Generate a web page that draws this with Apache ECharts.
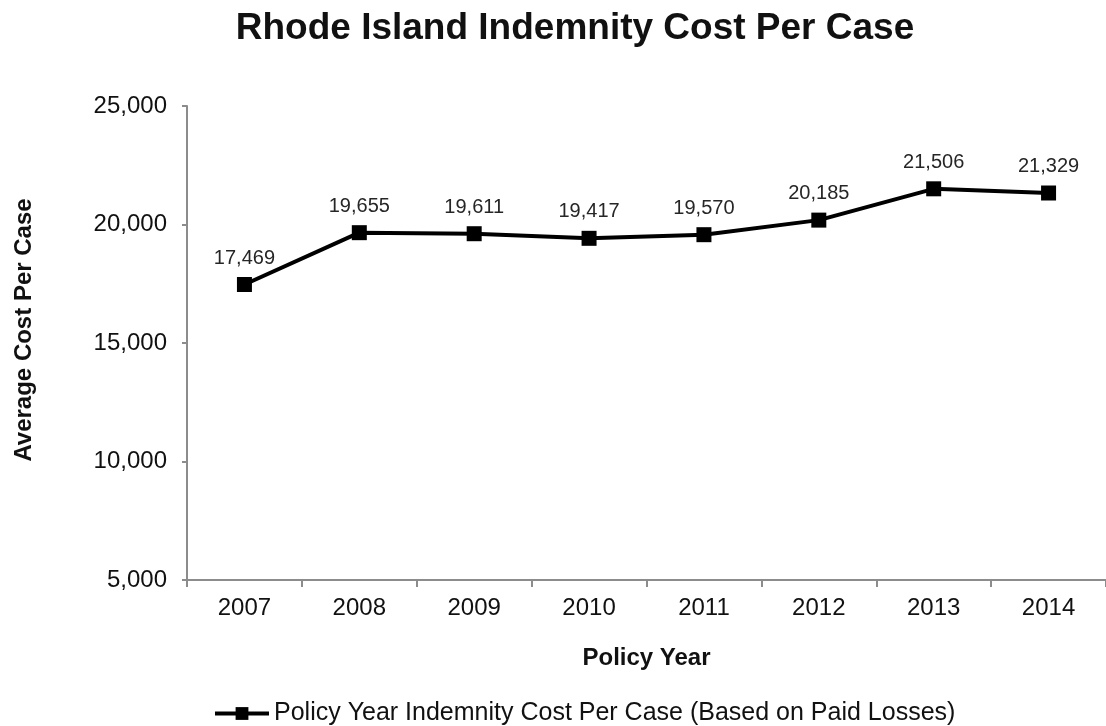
<!DOCTYPE html>
<html>
<head>
<meta charset="utf-8">
<title>Rhode Island Indemnity Cost Per Case</title>
<script src="https://cdn.jsdelivr.net/npm/echarts@6/dist/echarts.min.js"></script>
<style>
  html, body { margin: 0; padding: 0; background: #ffffff; }
  #chart { width: 1106px; height: 726px; }
</style>
</head>
<body>
<div id="chart"></div>
<script>
// Policy years on the category axis
const years = ['2007', '2008', '2009', '2010', '2011', '2012', '2013', '2014'];
// Average indemnity cost per case, based on paid losses
const costPerCase = [17469, 19655, 19611, 19417, 19570, 20185, 21506, 21329];
// Value axis range and step
const yMin = 5000;
const yMax = 25000;
const yStep = 5000;

const SERIES_NAME = 'Policy Year Indemnity Cost Per Case (Based on Paid Losses)';
const FONT = '"Liberation Sans", Arial, Helvetica, sans-serif';
const chart = echarts.init(document.getElementById('chart'), null, { renderer: 'canvas' });

chart.setOption({
  backgroundColor: '#ffffff',
  animation: false,
  title: {
    text: 'Rhode Island Indemnity Cost Per Case',
    left: 570,
    textAlign: 'center',
    top: 5,
    textStyle: { fontFamily: FONT, fontSize: 37, fontWeight: 'bold', color: '#111' }
  },
  legend: {
    top: 696,
    left: 208,
    itemWidth: 54,
    itemHeight: 16,
    lineStyle: { width: 4 },
    textStyle: { fontFamily: FONT, fontSize: 25, color: '#111' },
    data: [SERIES_NAME]
  },
  grid: { left: 187, top: 106, width: 921, bottom: 146, containLabel: false },
  xAxis: {
    type: 'category',
    data: years,
    boundaryGap: true,
    name: 'Policy Year',
    nameLocation: 'middle',
    nameGap: 66,
    nameTextStyle: { fontFamily: FONT, fontSize: 24, fontWeight: 'bold', color: '#111' },
    axisLine: { lineStyle: { color: '#8c8c8c', width: 2 } },
    axisTick: { show: true, alignWithLabel: false, length: 7, lineStyle: { color: '#8c8c8c', width: 2 } },
    axisLabel: { fontFamily: FONT, fontSize: 24, color: '#111', margin: 16 },
    splitLine: { show: false }
  },
  yAxis: {
    type: 'value',
    min: yMin,
    max: yMax,
    interval: yStep,
    name: 'Average Cost Per Case',
    nameLocation: 'middle',
    nameGap: 151,
    nameRotate: 90,
    nameTextStyle: {
      fontFamily: FONT, fontSize: 24, fontWeight: 'bold', color: '#111',
      padding: [0, 0, 0, 26]
    },
    axisLine: { show: true, lineStyle: { color: '#8c8c8c', width: 2 } },
    axisTick: { show: true, length: 5, lineStyle: { color: '#8c8c8c', width: 2 } },
    axisLabel: {
      fontFamily: FONT, fontSize: 24, color: '#111', margin: 20,
      formatter: v => v.toLocaleString('en-US')
    },
    splitLine: { show: false }
  },
  series: [{
    name: SERIES_NAME,
    type: 'line',
    data: costPerCase,
    symbol: 'rect',
    symbolSize: 15,
    lineStyle: { color: '#000', width: 4 },
    itemStyle: { color: '#000' },
    label: {
      show: true,
      position: 'top',
      distance: 9,
      fontFamily: FONT,
      fontSize: 20,
      color: '#262626',
      formatter: p => p.value.toLocaleString('en-US')
    }
  }]
});
</script>
</body>
</html>
